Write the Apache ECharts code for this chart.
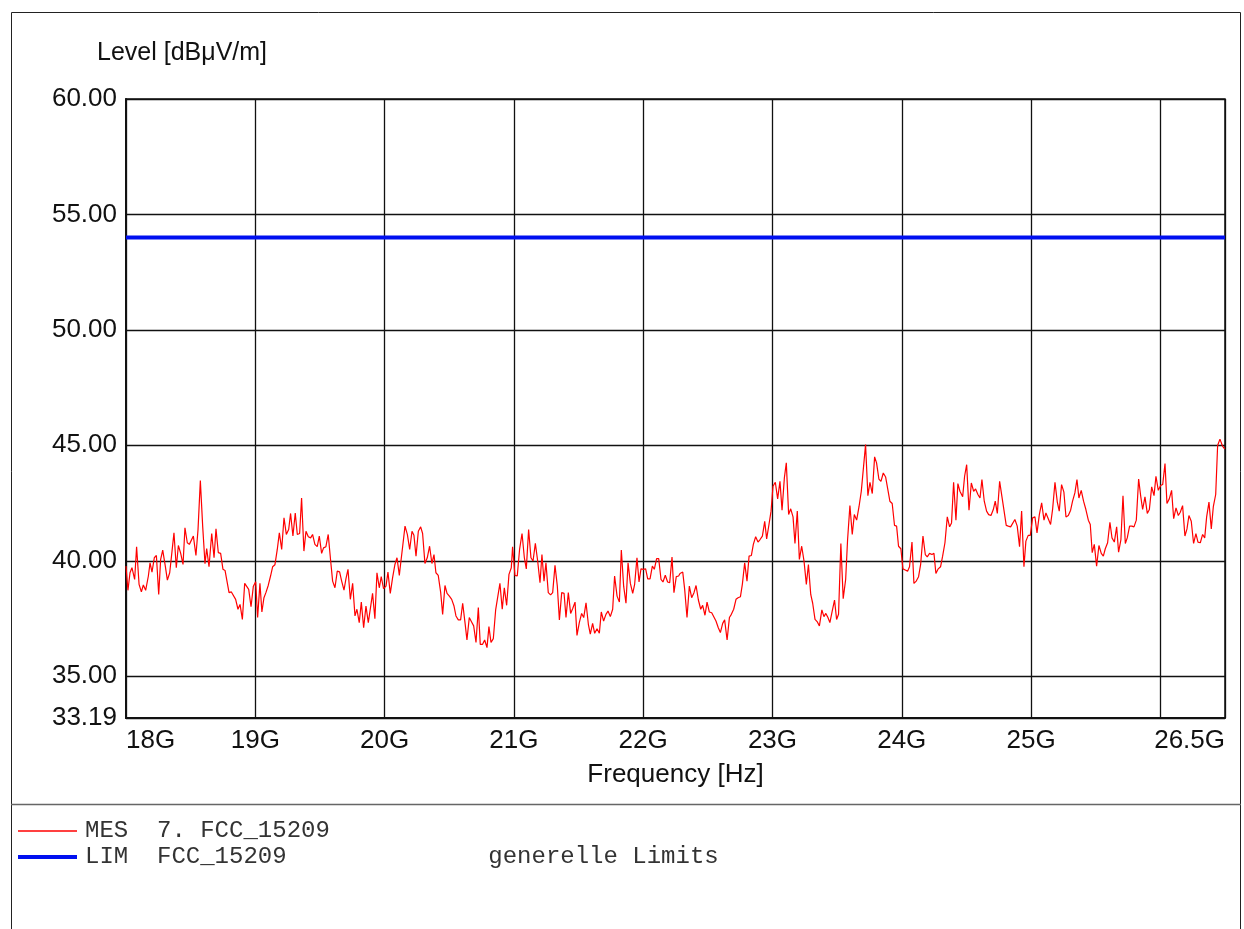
<!DOCTYPE html>
<html>
<head>
<meta charset="utf-8">
<title>FCC_15209</title>
<script src="https://cdn.jsdelivr.net/npm/echarts@6/dist/echarts.min.js"></script>
<style>
	html, body { margin: 0; padding: 0; background: #fff; }
	#main { width: 1244px; height: 929px; }
</style>
</head>
<body>
<div id="main"></div>
<script>
// measured trace, frequency in GHz
var mesFreq = [
	18.000,18.015,18.031,18.046,18.067,18.082,18.101,18.119,18.134,18.152,18.173,18.186,18.201,18.219,18.235,18.253,18.268,18.284,18.304,18.320,
	18.338,18.356,18.371,18.389,18.405,18.423,18.441,18.456,18.474,18.490,18.505,18.521,18.541,18.557,18.575,18.593,18.611,18.624,18.642,18.663,
	18.681,18.696,18.714,18.732,18.750,18.766,18.797,18.815,18.848,18.866,18.882,18.900,18.918,18.933,18.949,18.967,18.985,19.003,19.018,
	19.036,19.051,19.067,19.082,19.100,19.118,19.134,19.152,19.170,19.186,19.204,19.222,19.240,19.258,19.273,19.291,19.309,19.325,19.343,19.358,
	19.376,19.392,19.410,19.428,19.443,19.461,19.479,19.495,19.513,19.528,19.546,19.564,19.583,19.598,19.616,19.634,19.652,19.668,19.686,19.701,
	19.717,19.735,19.753,19.771,19.786,19.804,19.820,19.838,19.856,19.874,19.889,19.907,19.925,19.941,19.959,19.974,19.992,20.011,20.026,20.044,
	20.062,20.080,20.096,20.114,
	20.119,20.140,20.158,20.176,20.194,20.212,20.227,20.243,20.261,20.279,20.294,20.312,20.330,20.348,20.366,20.382,20.397,20.415,20.434,20.449,
	20.467,20.483,20.501,20.519,20.537,20.552,20.570,20.588,20.604,20.622,20.637,20.655,20.673,20.689,20.707,20.725,20.740,20.758,20.774,20.792,
	20.807,20.823,20.841,20.859,20.874,20.892,20.910,20.926,20.944,20.962,20.980,20.990,21.008,21.026,21.044,21.063,21.081,21.096,21.114,21.132,
	21.148,21.166,21.184,
	21.202,21.217,21.233,21.248,21.266,21.284,21.300,21.318,21.336,21.352,21.370,21.388,21.403,21.421,21.439,21.455,21.473,21.488,21.506,21.524,
	21.540,21.558,21.576,21.591,21.609,21.625,21.643,21.661,21.676,21.694,21.712,21.728,21.746,21.764,21.779,21.798,21.816,21.831,21.849,21.867,
	21.883,21.901,21.919,21.934,21.952,21.968,21.983,22.001,22.019,22.035,22.053,22.071,22.086,22.104,22.120,22.138,22.153,22.171,22.189,22.205,
	22.223,22.238,22.256,22.274,
	22.285,22.306,22.321,22.339,22.357,22.375,22.393,22.409,22.427,22.445,22.460,22.478,22.494,22.512,22.530,22.545,22.563,22.581,22.597,22.615,
	22.630,22.649,22.667,22.682,22.700,22.718,22.734,22.752,22.767,22.785,22.803,22.819,22.837,22.852,22.870,22.888,22.904,22.922,22.940,22.955,
	22.973,22.989,23.004,23.022,23.040,23.058,23.074,23.092,23.107,23.125,23.141,23.159,23.174,23.192,23.208,23.226,23.244,23.262,23.278,23.296,
	23.311,23.329,23.347,23.363,
	23.382,23.398,23.413,23.429,23.444,23.462,23.480,23.496,23.511,23.529,23.547,23.566,23.581,23.599,23.617,23.633,23.651,23.669,23.687,23.702,
	23.720,23.738,23.754,23.772,23.790,23.805,23.823,23.839,23.857,23.875,23.890,23.908,23.926,23.944,23.960,23.975,23.993,24.009,24.027,24.045,
	24.060,24.079,24.094,24.112,24.130,24.146,24.164,24.182,24.197,24.215,24.233,24.249,24.264,24.282,24.300,24.316,24.334,24.352,24.370,24.385,
	24.401,24.419,24.434,
	24.450,24.471,24.486,24.502,24.520,24.538,24.556,24.571,24.589,24.605,24.620,24.638,24.656,24.672,24.690,24.708,24.723,24.739,24.757,24.775,
	24.790,24.808,24.824,24.842,24.857,24.875,24.893,24.911,24.927,24.945,24.960,24.978,24.994,25.012,25.030,25.046,25.064,25.082,25.100,25.115,
	25.133,25.151,25.167,25.185,25.203,25.218,25.236,25.254,25.270,25.288,25.306,25.321,25.339,25.355,25.370,25.388,25.406,25.424,25.443,25.458,
	25.473,25.489,25.507,25.525,
	25.543,25.559,25.574,25.592,25.610,25.626,25.644,25.662,25.677,25.695,25.711,25.729,25.744,25.762,25.780,25.796,25.814,25.832,25.848,25.863,
	25.881,25.899,25.915,25.933,25.951,25.966,25.984,26.002,26.018,26.036,26.051,26.069,26.087,26.103,26.121,26.139,26.154,26.172,26.190,26.206,
	26.221,26.239,26.257,26.275,26.291,26.309,26.327,26.343,26.358,26.376,26.394,26.410,26.428,26.443,26.461,26.479,26.492,26.500
];
// level in dBuV/m
var mesLevel = [
	39.77,38.72,39.48,39.70,39.19,40.61,38.98,38.65,38.95,38.72,39.34,39.91,39.51,40.13,40.23,38.54,40.06,40.46,39.77,39.16,
	39.48,40.42,41.21,39.70,40.66,40.32,39.84,41.43,40.78,40.71,40.63,41.07,40.23,41.35,43.47,41.50,39.87,40.53,39.74,41.18,
	40.13,41.38,40.35,40.32,39.63,39.58,38.62,38.65,38.33,37.90,38.11,37.46,39.02,39.05,38.76,38.01,38.90,39.09,37.54,
	39.02,37.78,38.40,38.62,38.93,39.34,39.74,39.83,40.49,41.21,40.49,41.86,41.14,41.35,42.05,41.07,42.07,41.14,41.18,42.72,
	40.42,41.28,41.04,40.99,41.14,40.71,40.61,41.07,40.32,40.56,40.61,41.14,39.99,39.12,38.83,39.55,39.52,39.12,38.73,39.22,
	39.63,38.33,39.02,37.61,37.90,37.32,38.21,37.10,38.04,37.32,37.32,38.59,37.49,39.48,38.83,39.31,38.79,38.90,39.51,38.59,
	39.27,39.84,40.13,39.37,
	39.63,40.63,41.50,41.14,40.49,41.28,41.10,40.20,41.28,41.47,41.18,39.88,40.13,40.63,39.88,40.27,39.48,39.37,38.62,37.68,
	38.93,38.59,38.47,38.33,38.04,37.61,37.44,37.44,38.16,37.32,36.57,37.54,37.35,37.18,36.46,37.97,36.38,36.38,36.57,36.24,
	37.15,36.46,36.63,37.87,37.90,39.02,37.90,38.83,38.07,39.41,39.70,40.61,39.37,39.34,40.49,41.18,40.13,39.65,41.35,40.13,
	39.99,40.75,39.99,
	39.05,40.27,39.12,39.91,38.62,38.52,38.62,39.80,38.90,37.44,38.62,38.59,37.54,38.62,37.72,37.93,38.21,36.77,37.32,37.72,
	37.54,38.18,37.25,36.82,37.29,36.86,37.06,36.86,37.78,37.39,37.68,37.82,37.58,37.90,39.34,38.47,38.21,40.46,38.90,38.16,
	39.91,39.02,38.59,38.98,40.13,39.08,39.65,39.63,39.65,39.22,39.22,39.77,39.63,40.09,40.09,39.19,39.08,39.37,39.08,39.05,
	40.16,38.62,39.31,39.34,
	39.45,39.51,38.76,37.54,38.90,38.40,38.62,38.93,38.30,37.90,38.07,37.64,38.21,37.78,37.75,37.68,37.39,37.10,36.89,37.29,
	37.44,36.57,37.54,37.68,37.90,38.33,38.40,38.44,38.98,39.91,39.12,40.20,40.23,40.71,41.04,40.81,40.92,41.07,41.71,40.95,
	41.57,42.15,43.23,43.40,42.68,43.44,42.19,43.59,44.24,42.00,42.25,41.90,40.75,42.15,40.06,40.63,39.99,38.98,39.84,38.54,
	38.16,37.46,37.35,37.18,
	37.87,37.58,37.72,37.54,37.32,37.82,38.30,37.46,37.68,40.75,38.36,39.19,40.92,42.39,41.14,42.00,41.76,42.33,43.01,42.97,
	45.03,42.82,43.40,42.91,44.50,44.24,43.54,43.44,43.80,43.63,43.59,42.58,42.48,41.53,41.50,40.63,40.52,39.65,39.60,39.55,
	39.74,40.81,39.02,39.12,39.31,39.84,41.07,40.27,40.17,40.32,40.27,40.32,39.45,39.65,39.74,40.20,40.78,41.90,41.47,41.64,
	43.40,41.76,43.34,
	43.01,42.77,43.66,44.16,42.19,43.37,43.01,43.11,42.87,42.72,43.52,42.58,42.15,42.00,41.96,42.22,42.58,42.05,43.44,42.77,
	42.80,41.53,41.50,41.47,41.50,41.79,41.50,40.61,42.15,39.74,40.85,41.10,41.10,41.86,41.90,41.21,42.00,42.51,41.76,42.07,
	41.82,41.57,42.25,43.40,42.54,42.15,43.30,42.97,41.90,41.96,42.19,42.58,42.94,43.52,42.72,43.05,42.58,42.22,41.76,41.57,
	40.35,40.71,39.77,40.66,
	40.32,40.20,40.52,40.78,41.67,40.99,40.81,41.47,40.37,40.92,42.82,40.75,40.99,41.50,41.50,41.47,41.76,43.54,42.80,42.22,
	42.77,42.05,42.22,43.20,42.82,43.66,43.05,43.26,43.30,44.21,42.48,42.68,43.05,41.82,42.29,41.96,42.10,42.39,41.07,41.38,
	41.96,41.71,40.75,41.18,40.81,40.78,41.14,40.99,41.90,42.54,41.38,42.36,42.87,44.99,45.27,44.99,44.88,44.85
];
// limit line
var limFreq = [18, 26.5];
var limLevel = [54, 54];

// axis range
var freqMin = 18, freqMax = 26.5;
var levelMin = 33.19, levelMax = 60;

var mesName = 'MES  7. FCC_15209';
var limName = 'LIM  FCC_15209              generelle Limits';

function pairs(xs, ys){
	var out = new Array();
	for (var i = 0; i < xs.length; i++){
		out.push([xs[i], ys[i]]);
	}
	return out;
}

var chart = echarts.init(document.getElementById('main'));
var sans = '"Liberation Sans", Arial, sans-serif';
var mono = '"Liberation Mono", "Courier New", monospace';

var option = {
	animation: false,
	backgroundColor: '#fff',
	title: {
		text: 'Level [dBμV/m]',
		left: 92,
		top: 36,
		textStyle: {fontFamily: sans, fontSize: 25, fontWeight: 'normal', color: '#111'}
	},
	legend: {
		show: true,
		orient: 'vertical',
		left: 18,
		top: 819,
		padding: 0,
		itemWidth: 59,
		itemHeight: 14,
		itemGap: 2,
		// plain line icons, thin red and thick blue
		data: [
			{name: mesName, icon: 'path://M0,0L59,0L59,1.6L0,1.6Z'},
			{name: limName, icon: 'path://M0,0L59,0L59,4L0,4Z'}
		],
		textStyle: {fontFamily: mono, fontSize: 24, color: '#333', lineHeight: 24, padding: [0, 0, 0, 3]}
	},
	grid: {
		left: 126,
		top: 99,
		right: 19,
		bottom: 211,
		show: true,
		borderColor: '#111',
		borderWidth: 1.5
	},
	xAxis: {
		type: 'value',
		min: freqMin,
		max: freqMax,
		interval: 1,
		name: 'Frequency [Hz]',
		nameLocation: 'middle',
		nameGap: 44,
		nameTextStyle: {fontFamily: sans, fontSize: 26, color: '#111'},
		axisLine: {show: true, lineStyle: {color: '#111', width: 2}},
		axisTick: {show: false},
		axisLabel: {
			fontFamily: sans, fontSize: 26, color: '#111', margin: 10,
			showMinLabel: true, showMaxLabel: true,
			alignMinLabel: 'left', alignMaxLabel: 'right',
			formatter: function(v){
				if (v == 26) return '';
				return v + 'G';
			}
		},
		splitLine: {show: true, lineStyle: {color: '#111', width: 1.3}}
	},
	yAxis: {
		type: 'value',
		min: levelMin,
		max: levelMax,
		axisLine: {show: true, lineStyle: {color: '#111', width: 2}},
		axisTick: {show: false},
		axisLabel: {
			fontFamily: sans, fontSize: 26, color: '#111', margin: 9,
			showMinLabel: true, showMaxLabel: true,
			formatter: function(v){ return v.toFixed(2); }
		},
		splitLine: {show: true, lineStyle: {color: '#111', width: 1.3}}
	},
	series: [
		{
			name: mesName,
			type: 'line',
			symbol: 'none',
			data: pairs(mesFreq, mesLevel),
			lineStyle: {color: '#ff0000', width: 1.2},
			itemStyle: {color: '#ff0000'},
			z: 3
		},
		{
			name: limName,
			type: 'line',
			symbol: 'none',
			data: pairs(limFreq, limLevel),
			lineStyle: {color: '#0010f0', width: 4},
			itemStyle: {color: '#0010f0'},
			z: 4
		}
	],
	graphic: [
		// outer frame and legend divider
		{type: 'rect', shape: {x: 11.5, y: 12.5, width: 1229, height: 940}, style: {fill: 'none', stroke: '#222', lineWidth: 1}, silent: true, z: -1},
		{type: 'line', shape: {x1: 11, y1: 804.5, x2: 1241, y2: 804.5}, style: {stroke: '#666', lineWidth: 1.5}, silent: true, z: -1}
	]
};
chart.setOption(option);
</script>
</body>
</html>
